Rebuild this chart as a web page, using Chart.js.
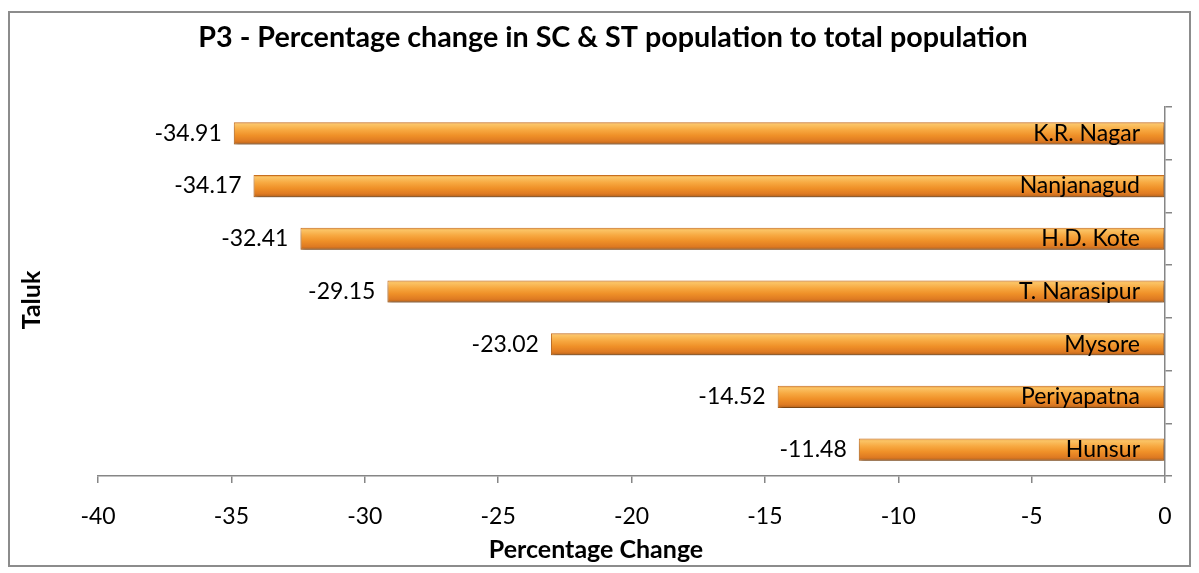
<!DOCTYPE html>
<html>
<head>
<meta charset="utf-8">
<title>P3 - Percentage change in SC & ST population</title>
<script src="https://cdn.jsdelivr.net/npm/chart.js@4.4.1/dist/chart.umd.min.js"></script>
<style>
  html, body { margin: 0; padding: 0; background: #fff; }
  #wrap { width: 1199px; height: 573px; position: relative; }
</style>
</head>
<body>
<div id="wrap"><canvas id="chart"></canvas></div>
<script>
// Taluks, top to bottom
const taluks = ["K.R. Nagar", "Nanjanagud", "H.D. Kote", "T. Narasipur", "Mysore", "Periyapatna", "Hunsur"];
// Percentage change in SC & ST population
const pctChange = [-34.91, -34.17, -32.41, -29.15, -23.02, -14.52, -11.48];
// X axis ticks
const xTicks = [-40, -35, -30, -25, -20, -15, -10, -5, 0];

const FONT = "Lato, 'Open Sans', sans-serif";
const AXIS_GRAY = "#868686";
const BAR_PCT = 0.42;

// vertical bevel gradient for each bar
function barFill(ctx) {
    const chart = ctx.chart;
    const ys = chart.scales.y;
    if (!ys || !chart.chartArea || !ys.height) return "#F39A36";
    const mid = ys.getPixelForValue(ctx.dataIndex);
    const half = ys.height / taluks.length * BAR_PCT / 2;
    const g = chart.ctx.createLinearGradient(0, mid - half, 0, mid + half);
    g.addColorStop(0, "#E58F30");
    g.addColorStop(0.1, "#FBC466");
    g.addColorStop(0.35, "#F7A840");
    g.addColorStop(0.6, "#EF9028");
    g.addColorStop(0.85, "#DE7A22");
    g.addColorStop(1, "#B0601C");
    return g;
}

// white page with grey frame
const frame = {
    id: "frame",
    beforeDraw(chart) {
        const c = chart.ctx;
        c.save();
        c.fillStyle = "#fff";
        c.fillRect(0, 0, chart.width, chart.height);
        c.strokeStyle = "#8C8C8C";
        c.lineWidth = 2;
        c.strokeRect(9, 12, 1181, 554);
        c.restore();
    }
};

// soft shadow under the bars
const barShadow = {
    id: "barShadow",
    beforeDatasetsDraw(chart) {
        const c = chart.ctx;
        c.save();
        c.shadowColor = "rgba(0,0,0,0.4)";
        c.shadowBlur = 4;
        c.shadowOffsetX = 1;
        c.shadowOffsetY = 4;
    },
    afterDatasetsDraw(chart) {
        chart.ctx.restore();
    }
};

// title, axis titles, value and taluk labels
const texts = {
    id: "texts",
    afterDraw(chart) {
        const c = chart.ctx;
        const area = chart.chartArea;
        c.save();
        c.fillStyle = "#000";
        c.textBaseline = "middle";

        c.font = "bold 28.7px " + FONT;
        c.textAlign = "center";
        c.fillText("P3 - Percentage change in SC & ST population to total population", 613, 38);

        c.font = "bold 25px " + FONT;
        c.fillText("Percentage Change", 596, 550);

        c.save();
        c.translate(32, 300);
        c.rotate(-Math.PI / 2);
        c.fillText("Taluk", 0, 0);
        c.restore();

        c.font = "23px " + FONT;
        const meta = chart.getDatasetMeta(0);
        meta.data.forEach((bar, i) => {
            c.textAlign = "right";
            c.fillText(pctChange[i].toFixed(2), bar.x - 12, bar.y);
            c.fillText(taluks[i], area.right - 25, bar.y);
        });
        c.restore();
    }
};

new Chart(document.getElementById("chart"), {
    type: "bar",
    data: {
        labels: taluks,
        datasets: [{
            data: pctChange,
            backgroundColor: barFill,
            borderColor: "#C8701F",
            borderWidth: 1,
            borderSkipped: false,
            barPercentage: BAR_PCT,
            categoryPercentage: 1
        }]
    },
    options: {
        indexAxis: "y",
        responsive: true,
        maintainAspectRatio: false,
        animation: false,
        layout: { padding: { left: 98, top: 107, right: 0, bottom: 0 } },
        plugins: {
            legend: { display: false },
            tooltip: { enabled: false }
        },
        scales: {
            x: {
                min: xTicks[0],
                max: xTicks[xTicks.length - 1],
                afterBuildTicks(scale) {
                    scale.ticks = xTicks.map(v => ({ value: v }));
                },
                afterFit(scale) { scale.height = 97; },
                border: { display: true, color: AXIS_GRAY, width: 1.5 },
                grid: { drawOnChartArea: false, drawTicks: true, tickLength: 7, color: AXIS_GRAY, lineWidth: 1.5 },
                ticks: { color: "#000", font: { family: FONT, size: 23 }, padding: 20 }
            },
            y: {
                position: "right",
                afterFit(scale) { scale.width = 34; },
                border: { display: true, color: AXIS_GRAY, width: 1.5 },
                grid: { drawOnChartArea: false, drawTicks: true, tickLength: 7, color: AXIS_GRAY, lineWidth: 1.5 },
                ticks: { display: false }
            }
        }
    },
    plugins: [frame, barShadow, texts]
});
</script>
</body>
</html>
